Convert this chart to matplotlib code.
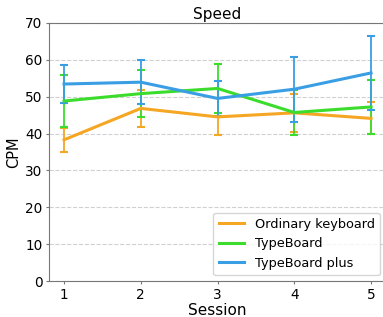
import matplotlib
matplotlib.use('Agg')
import matplotlib.pyplot as plt
from matplotlib.lines import Line2D

sessions = [1, 2, 3, 4, 5]
ordinary = [38.3, 46.8, 44.5, 45.6, 44.1]
ordinary_err = [3.3, 5.0, 5.0, 5.2, 4.3]
typeboard = [48.8, 50.8, 52.2, 45.7, 47.2]
typeboard_err = [7.1, 6.4, 6.6, 6.2, 7.2]
typeboard_plus = [53.4, 53.9, 49.5, 52.0, 56.4]
typeboard_plus_err = [5.2, 6.0, 4.7, 8.8, 9.9]

series = [
    ("Ordinary keyboard", ordinary, ordinary_err, "#F5A623"),
    ("TypeBoard", typeboard, typeboard_err, "#3CDC2C"),
    ("TypeBoard plus", typeboard_plus, typeboard_plus_err, "#3A9EE4"),
]

fig = plt.figure(figsize=(3.83, 3.17), dpi=100)
ax = fig.add_axes([48.7 / 383, 35.7 / 317, 337.7 / 383, 258.6 / 317])

handles = []
for label, vals, err, color in series:
    ax.errorbar(sessions, vals, yerr=err, color=color, linewidth=2.2,
                elinewidth=1.3, capsize=3, capthick=1.5)
    handles.append(Line2D([], [], color=color, linewidth=2.2, label=label))

ax.set_xlim(0.8, 5.2)
ax.set_ylim(0, 70)
ax.set_xticks(sessions)
ax.set_yticks(range(0, 71, 10))
ax.grid(axis="y", linestyle="--", color="#d0d0d0", linewidth=0.8)
ax.set_axisbelow(True)
for sp in ax.spines.values():
    sp.set_color("#777777")
ax.tick_params(colors="#777777", labelcolor="black", labelsize=9.8,
               length=2.5, pad=2)

ax.set_title("Speed", fontsize=11, pad=3)
ax.set_xlabel("Session", fontsize=11, labelpad=1)
ax.set_ylabel("CPM", fontsize=10.5, labelpad=3)

ax.legend(handles=handles, loc="lower right", bbox_to_anchor=(0.981, 0.024),
          borderaxespad=0, fontsize=9.3, handlelength=2.0)

fig.savefig("out.png", dpi=100)
